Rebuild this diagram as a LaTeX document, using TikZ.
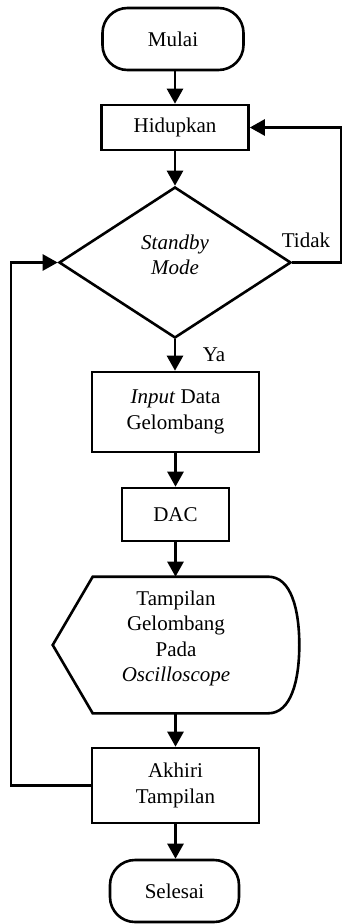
\documentclass[tikz,border=0pt]{standalone}
\usepackage{fontspec}
\setmainfont{Liberation Serif}
\usetikzlibrary{arrows.meta,shapes.geometric,calc}
\begin{document}
\begin{tikzpicture}[x=1pt,y=-1pt,
  line width=2.6pt,
  every node/.style={font=\fontsize{21}{25.5}\selectfont, inner sep=0pt, align=center},
  terminal/.style={draw, rounded corners=25pt, minimum width=#1, minimum height=62pt},
  procbox/.style={draw, rectangle, minimum width=#1},
  decision/.style={draw, diamond, minimum width=232pt, minimum height=151pt},
  flow/.style={-{Triangle[length=15pt,width=16pt]}, line width=2.6pt},
  lbl/.style={font=\fontsize{21}{25}\selectfont}
]
  \useasboundingbox (0,0) rectangle (343,924);

  % main column
  \node[terminal=141pt] (mulai) at (173,39) {Mulai};
  \node[procbox=147pt, minimum height=45pt] (hid) at (175,127.5) {Hidupkan};
  \node[decision] (dia) at (175,262.5) {};
  \node (diatext) at (175,255) {\textit{Standby}\\\textit{Mode}};
  \node[procbox=167pt, minimum height=80pt] (inp) at (175.5,412) {\textit{Input} Data\\Gelombang};
  \node[procbox=107pt, minimum height=53pt] (dac) at (175.5,514.5) {DAC};

  % display symbol
  \node[minimum width=244pt, minimum height=134pt] (disp) at (176,645) {};
  \node (disptext) at (176,638.5) {Tampilan\\Gelombang\\Pada\\\textit{Oscilloscope}};
  \draw[line join=miter]
    ($(disp.west)$) -- ($(disp.north west)+(40,0)$) -- ($(disp.north east)+(-31,0)$)
    .. controls ($(disp.north east)+(-8,0)$) and ($(disp.east)+(0,-35)$) .. (disp.east)
    .. controls ($(disp.east)+(0,35)$) and ($(disp.south east)+(-8,0)$) .. ($(disp.south east)+(-31,0)$)
    -- ($(disp.south west)+(40,0)$) -- cycle;

  \node[procbox=167pt, minimum height=75pt] (akh) at (175.5,785.5) {Akhiri\\Tampilan};
  \node[terminal=129pt] (sel) at (174.5,891) {Selesai};

  % routing columns for the loops
  \coordinate (rx) at (341,0);
  \coordinate (lx) at (11,0);

  % straight flow
  \draw[flow] (mulai.south -| hid.north) -- (hid.north);
  \draw[flow] (hid) -- (dia.north);
  \draw[flow] (dia.south) -- (dia.south |- inp.north);
  \draw[flow] (inp) -- (inp.south |- dac.north);
  \draw[flow] (dac) -- (dac.south |- disp.north);
  \draw[flow] (disp.south -| akh.north) -- (akh);
  \draw[flow] (akh) -- (akh.south |- sel.north);

  % loops
  \draw[flow] (dia.east) -- (dia.east -| rx) |- (hid.east);
  \draw[flow] (akh.west) -- (akh.west -| lx) |- (dia.west);

  % branch labels
  \node[lbl] (tidak) at (306,240) {Tidak};
  \node[lbl] (ya) at (214,355) {Ya};
\end{tikzpicture}
\end{document}
